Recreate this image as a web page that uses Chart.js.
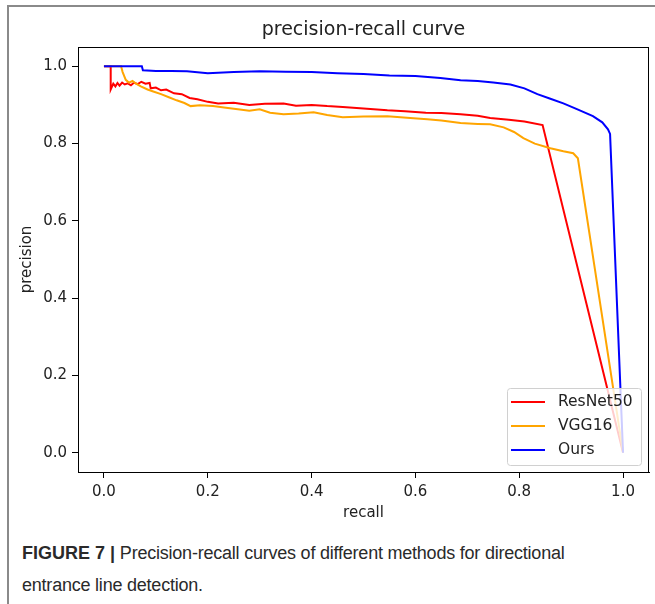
<!DOCTYPE html>
<html>
<head>
<meta charset="utf-8">
<script src="https://cdn.jsdelivr.net/npm/chart.js@4/dist/chart.umd.min.js"></script>
<style>
    body { margin: 0; background: #fff; width: 655px; height: 604px; overflow: hidden; position: relative; }
    #frame { position: absolute; left: 7px; top: 5px; right: 0; bottom: 0; border-left: 2px solid #8a8a8a; border-top: 2px solid #8a8a8a; }
    #box { position: absolute; left: 0; top: 0; width: 655px; height: 530px; }
    #caption { position: absolute; left: 22px; top: 537px; width: 630px; font-family: "Liberation Sans", sans-serif; font-size: 18px; line-height: 32px; color: #2a2a2a; letter-spacing: -0.22px; white-space: nowrap; }
    #caption b { font-weight: bold; letter-spacing: 0; }
</style>
</head>
<body>
<div id="frame"></div>
<div id="box"><canvas id="pr-chart" width="655" height="530"></canvas></div>
<div id="caption"><b>FIGURE 7 |</b> Precision-recall curves of different methods for directional<br>entrance line detection.</div>
<script>
// series names and colours
var series_names = ['ResNet50', 'VGG16', 'Ours'];
var series_colors = ['#ff0000', '#ffa500', '#0000ff'];

// ResNet50 curve
var resnet_recall = [0, 0.013, 0.013, 0.018, 0.022, 0.026, 0.030, 0.035, 0.040, 0.046, 0.052, 0.058, 0.065, 0.072, 0.080, 0.088, 0.090, 0.100, 0.110, 0.120, 0.135, 0.150, 0.165, 0.180, 0.200, 0.220, 0.250, 0.280, 0.310, 0.346, 0.370, 0.400, 0.430, 0.460, 0.500, 0.546, 0.580, 0.620, 0.650, 0.687, 0.720, 0.744, 0.780, 0.810, 0.845, 1.0];
var resnet_precision = [1.0, 1.0, 0.940, 0.955, 0.948, 0.957, 0.950, 0.958, 0.953, 0.956, 0.951, 0.958, 0.954, 0.960, 0.955, 0.957, 0.943, 0.945, 0.938, 0.940, 0.930, 0.928, 0.918, 0.915, 0.908, 0.904, 0.906, 0.900, 0.903, 0.904, 0.898, 0.900, 0.897, 0.895, 0.891, 0.886, 0.884, 0.880, 0.879, 0.876, 0.872, 0.866, 0.862, 0.857, 0.848, 0.0];

// VGG16 curve
var vgg_recall = [0, 0.033, 0.036, 0.042, 0.048, 0.055, 0.062, 0.071, 0.084, 0.095, 0.110, 0.125, 0.140, 0.155, 0.167, 0.185, 0.210, 0.235, 0.258, 0.280, 0.300, 0.320, 0.346, 0.375, 0.404, 0.430, 0.460, 0.500, 0.546, 0.590, 0.623, 0.650, 0.687, 0.720, 0.744, 0.770, 0.790, 0.808, 0.830, 0.860, 0.885, 0.904, 0.913, 1.0];
var vgg_precision = [1.0, 1.0, 0.985, 0.965, 0.958, 0.962, 0.955, 0.948, 0.940, 0.935, 0.928, 0.920, 0.912, 0.905, 0.897, 0.899, 0.897, 0.893, 0.889, 0.885, 0.889, 0.880, 0.876, 0.878, 0.881, 0.874, 0.868, 0.870, 0.871, 0.866, 0.863, 0.860, 0.853, 0.851, 0.850, 0.842, 0.830, 0.814, 0.800, 0.788, 0.780, 0.775, 0.762, 0.0];

// Ours curve
var ours_recall = [0, 0.073, 0.075, 0.10, 0.13, 0.16, 0.20, 0.25, 0.30, 0.35, 0.40, 0.45, 0.50, 0.55, 0.60, 0.648, 0.687, 0.72, 0.75, 0.783, 0.81, 0.835, 0.86, 0.885, 0.91, 0.942, 0.96, 0.971, 0.975, 1.0];
var ours_precision = [1.0, 1.0, 0.990, 0.988, 0.988, 0.987, 0.982, 0.985, 0.987, 0.986, 0.985, 0.982, 0.980, 0.976, 0.975, 0.970, 0.964, 0.962, 0.958, 0.953, 0.943, 0.928, 0.916, 0.904, 0.890, 0.871, 0.855, 0.837, 0.825, 0.0];

// tick values for both axes
var tick_values = [0, 0.2, 0.4, 0.6, 0.8, 1.0];

// chart title and text font
var chart_title = 'precision-recall curve';
var plot_font = "'DejaVu Sans', sans-serif";

// function that joins recall and precision into points
function toPoints(recall, precision) {
    var points = [];
    for (var i = 0; i < recall.length; i++) {
        points.push({ x: recall[i], y: precision[i] });
    }
    return points;
}

// plugin that draws the title, the box round the plot and the legend
var framePlugin = {
    id: 'frame',
    afterDraw: function(chart) {
        var ctx = chart.ctx;
        var area = chart.chartArea;
        ctx.save();
        // title centred over the plot area
        ctx.font = "19px " + plot_font;
        ctx.fillStyle = '#222';
        ctx.textAlign = 'center';
        ctx.textBaseline = 'middle';
        ctx.fillText(chart_title, (area.left + area.right) / 2, 30);
        ctx.textAlign = 'left';
        // black frame
        ctx.strokeStyle = '#000';
        ctx.lineWidth = 1;
        ctx.strokeRect(Math.round(area.left) + 0.5, Math.round(area.top) + 0.5, Math.round(area.right - area.left) - 1, Math.round(area.bottom - area.top));
        // legend box in lower right corner
        var box_w = 134, box_h = 77;
        var bx = area.right - 8 - box_w;
        var by = area.bottom - 7 - box_h;
        ctx.beginPath();
        ctx.roundRect(bx + 0.5, by + 0.5, box_w, box_h, 3);
        ctx.fillStyle = 'rgba(255,255,255,0.8)';
        ctx.fill();
        ctx.strokeStyle = '#d0d0d0';
        ctx.stroke();
        // legend entries
        ctx.font = "15.5px " + plot_font;
        for (var i = 0; i < series_names.length; i++) {
            var ly = by + 14 + i * 24;
            ctx.strokeStyle = series_colors[i];
            ctx.lineWidth = 2;
            ctx.beginPath();
            ctx.moveTo(bx + 4, ly);
            ctx.lineTo(bx + 38, ly);
            ctx.stroke();
            ctx.fillStyle = '#222';
            ctx.fillText(series_names[i], bx + 51, ly);
        }
        ctx.restore();
    }
};

// build the datasets
var all_points = [
    toPoints(resnet_recall, resnet_precision),
    toPoints(vgg_recall, vgg_precision),
    toPoints(ours_recall, ours_precision)
];
var datasets = [];
for (var i = 0; i < series_names.length; i++) {
    datasets.push({
        label: series_names[i],
        data: all_points[i],
        showLine: true,
        borderColor: series_colors[i],
        backgroundColor: series_colors[i],
        borderWidth: 2,
        pointRadius: 0,
        tension: 0,
        order: series_names.length - i
    });
}

// axis options shared by x and y
function axisOptions(title, title_padding) {
    return {
        type: 'linear',
        min: -0.05,
        max: 1.05,
        afterBuildTicks: function(scale) {
            scale.ticks = tick_values.map(function(v) { return { value: v }; });
        },
        ticks: {
            color: '#222',
            font: { family: plot_font, size: 15 },
            padding: 5,
            callback: function(value) { return value.toFixed(1); }
        },
        grid: { display: true, drawOnChartArea: false, drawTicks: true, tickLength: 6, color: '#000', tickColor: '#000' },
        border: { display: true, color: '#000', width: 1 },
        title: { display: true, text: title, color: '#222', font: { family: plot_font, size: 15 }, padding: title_padding }
    };
}

var x_axis = axisOptions('recall', { top: 0, bottom: 8 });
x_axis.afterFit = function(scale) { scale.height = 58; };
var y_axis = axisOptions('precision', { top: 8, bottom: 0 });
y_axis.afterFit = function(scale) { scale.width = 68; };

// print chart
var ctx = document.getElementById('pr-chart').getContext('2d');
var prChart = new Chart(ctx, {
    type: 'scatter',
    data: { datasets: datasets },
    options: {
        responsive: false,
        animation: false,
        devicePixelRatio: 1,
        layout: { padding: { left: 10, right: 6, top: 47, bottom: 0 } },
        plugins: {
            legend: { display: false },
            tooltip: { enabled: false },
            title: { display: false }
        },
        scales: { x: x_axis, y: y_axis }
    },
    plugins: [framePlugin]
});
</script>
</body>
</html>
